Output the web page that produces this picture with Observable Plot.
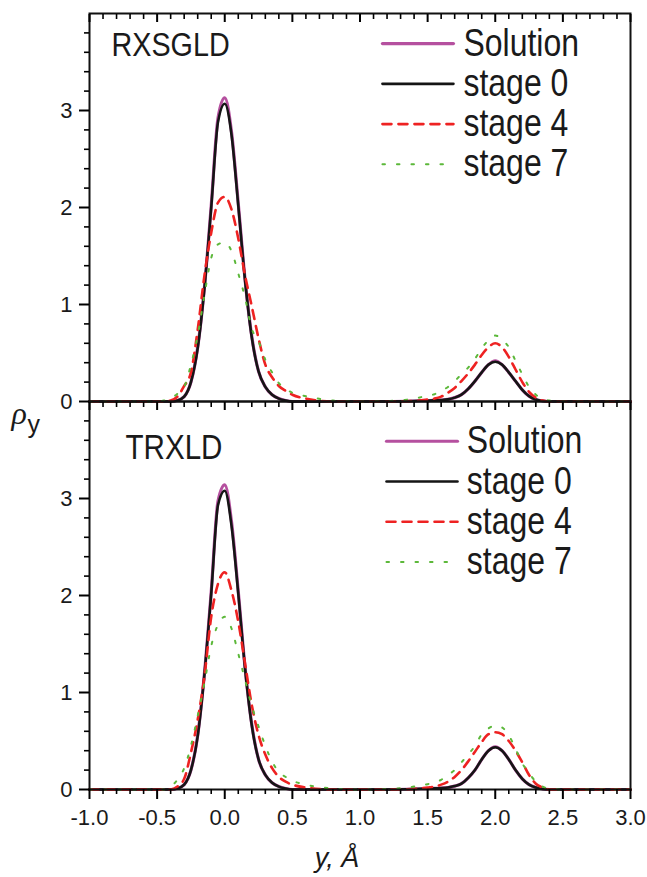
<!DOCTYPE html>
<html><head><meta charset="utf-8">
<script src="https://cdn.jsdelivr.net/npm/d3@7"></script>
<script src="https://cdn.jsdelivr.net/npm/@observablehq/plot@0.6"></script>
<style>body{margin:0;background:#fff;}</style>
</head><body><div id="chart"></div>
<script>
// ---------- data ----------
const panels = ["RXSGLD", "TRXLD"];
const seriesNames = ["Solution", "stage 0", "stage 4", "stage 7"];
const xTicks = [-1.0, -0.5, 0.0, 0.5, 1.0, 1.5, 2.0, 2.5, 3.0];
const xMinor = [-0.9,-0.8,-0.7,-0.6,-0.4,-0.3,-0.2,-0.1,0.1,0.2,0.3,0.4,0.6,0.7,0.8,0.9,1.1,1.2,1.3,1.4,1.6,1.7,1.8,1.9,2.1,2.2,2.3,2.4,2.6,2.7,2.8,2.9];
const yTicks = [0, 1, 2, 3];
const yMinor = [0.2,0.4,0.6,0.8,1.2,1.4,1.6,1.8,2.2,2.4,2.6,2.8,3.2,3.4,3.6,3.8];
const yPos = [-1.0,-0.6,-0.5,-0.45,-0.4,-0.35,-0.3,-0.25,-0.2,-0.15,-0.1,-0.05,0,0.05,0.1,0.15,0.2,0.25,0.3,0.35,0.4,0.45,0.5,0.6,0.8,1.0,1.2,1.4,1.5,1.55,1.6,1.65,1.7,1.75,1.8,1.85,1.9,1.95,2.0,2.05,2.1,2.15,2.2,2.25,2.3,2.35,2.4,2.5,2.6,2.8,3.0];

// RXSGLD panel
const rxSolution = [0,0,0,0,0,0.01,0.05,0.20,0.56,1.18,2.02,2.92,3.13,2.78,2.04,1.26,0.67,0.31,0.15,0.07,0.03,0.01,0,0,0,0,0,0.005,0.01,0.012,0.015,0.022,0.04,0.07,0.13,0.21,0.30,0.38,0.42,0.38,0.30,0.21,0.12,0.055,0.02,0.005,0,0,0,0,0];
const rxStage0   = [0,0,0,0,0,0.01,0.05,0.20,0.55,1.17,2.00,2.88,3.07,2.75,2.02,1.25,0.66,0.31,0.15,0.07,0.03,0.01,0,0,0,0,0,0.005,0.01,0.012,0.015,0.022,0.04,0.07,0.13,0.21,0.30,0.38,0.41,0.38,0.30,0.21,0.12,0.055,0.02,0.005,0,0,0,0,0];
const rxStage4   = [0,0,0,0,0.01,0.05,0.16,0.30,0.74,1.30,1.74,2.05,2.11,1.98,1.68,1.30,0.98,0.65,0.38,0.25,0.16,0.11,0.07,0.03,0,0,0,0.005,0.02,0.03,0.05,0.09,0.14,0.21,0.29,0.38,0.48,0.56,0.60,0.56,0.46,0.33,0.20,0.10,0.04,0.01,0,0,0,0,0];
const rxStage7   = [0,0,0,0.01,0.03,0.08,0.15,0.38,0.68,1.10,1.48,1.62,1.64,1.55,1.32,1.07,0.75,0.62,0.43,0.30,0.19,0.13,0.09,0.055,0.01,0,0.005,0.03,0.06,0.075,0.11,0.15,0.21,0.28,0.35,0.44,0.55,0.63,0.68,0.64,0.56,0.42,0.28,0.15,0.07,0.025,0.01,0,0,0,0];
// TRXLD panel
const trSolution = [0,0,0,0,0,0.01,0.05,0.20,0.56,1.20,2.04,2.97,3.14,2.76,2.04,1.26,0.67,0.31,0.15,0.07,0.03,0.01,0,0,0,0,0,0.005,0.01,0.012,0.015,0.02,0.035,0.06,0.12,0.20,0.31,0.40,0.44,0.40,0.31,0.20,0.11,0.05,0.02,0.005,0,0,0,0,0];
const trStage0   = [0,0,0,0,0,0.01,0.05,0.20,0.55,1.19,2.02,2.93,3.08,2.72,2.02,1.25,0.66,0.31,0.15,0.07,0.03,0.01,0,0,0,0,0,0.005,0.01,0.012,0.015,0.02,0.035,0.06,0.12,0.20,0.31,0.40,0.435,0.40,0.31,0.20,0.11,0.05,0.02,0.005,0,0,0,0,0];
const trStage4   = [0,0,0,0,0,0.03,0.11,0.38,0.72,1.17,1.78,2.12,2.24,2.05,1.73,1.30,0.87,0.56,0.36,0.22,0.13,0.08,0.05,0.02,0,0,0,0.005,0.02,0.03,0.05,0.08,0.13,0.20,0.29,0.39,0.49,0.57,0.59,0.57,0.50,0.40,0.28,0.15,0.06,0.02,0,0,0,0,0];
const trStage7   = [0,0,0,0,0.03,0.10,0.22,0.45,0.76,1.10,1.48,1.70,1.78,1.66,1.40,1.13,0.86,0.65,0.45,0.29,0.18,0.13,0.09,0.05,0.01,0,0.005,0.03,0.055,0.07,0.10,0.15,0.20,0.28,0.36,0.45,0.57,0.63,0.66,0.64,0.56,0.42,0.27,0.17,0.08,0.03,0.01,0,0,0,0];

// ---------- build table ----------
const panelSeries = {
  RXSGLD: [rxSolution, rxStage0, rxStage4, rxStage7],
  TRXLD:  [trSolution, trStage0, trStage4, trStage7]
};
const rows = [];
for (const p of panels) panelSeries[p].forEach((vals, si) =>
  vals.forEach((v, i) => rows.push({panel: p, series: seriesNames[si], x: yPos[i], v})));

// ---------- styles ----------
const styles = [
  {stroke: "#b5509f", strokeWidth: 3.2, dash: null},
  {stroke: "#151515", strokeWidth: 2.6, dash: null},
  {stroke: "#ee2222", strokeWidth: 2.6, dash: "9,7"},
  {stroke: "#5cb83a", strokeWidth: 2, dash: "2.5,12"}
];
const SANS = "'Liberation Sans', Arial, Helvetica, sans-serif";

const curveMarks = seriesNames.map((s, si) => Plot.line(rows.filter(r => r.series === s), {
  x: "x", y: "v", fy: "panel", stroke: styles[si].stroke, strokeWidth: styles[si].strokeWidth,
  strokeDasharray: styles[si].dash, curve: "monotone-x"
}));

// legend (positions in data units of each panel)
const legendCfg = [
  {panel: panels[0], x1: 1.166, x2: 1.691, tx: 1.765, y0: 3.69, step: 0.415},
  {panel: panels[1], x1: 1.196, x2: 1.721, tx: 1.79, y0: 3.59, step: 0.415}
];
const legendMarks = [];
for (const L of legendCfg) {
  seriesNames.forEach((s, si) => {
    const yy = L.y0 - si * L.step;
    legendMarks.push(Plot.line([{x: L.x1, v: yy}, {x: L.x2, v: yy}], {
      x: "x", y: "v", fy: () => L.panel, stroke: styles[si].stroke, strokeWidth: styles[si].strokeWidth,
      strokeDasharray: styles[si].dash
    }));
    legendMarks.push(Plot.text([s], {
      x: () => L.tx, y: () => yy, fy: () => L.panel, text: d => d, textAnchor: "start",
      lineAnchor: "bottom", dy: 12, fontSize: 39, fontFamily: SANS, fill: "#1a1a1a", ariaDescription: "narrow82"
    }));
  });
}

const chart = Plot.plot({
  width: 647, height: 877,
  marginLeft: 89, marginRight: 17, marginTop: 13, marginBottom: 88,
  style: {fontFamily: SANS, background: "#fff"},
  x: {domain: [-1, 3]},
  y: {domain: [0, 4]},
  fy: {domain: panels, padding: 0, axis: null},
  marks: [
    ...curveMarks,
    ...legendMarks,
    Plot.frame({stroke: "#111", strokeWidth: 2}),
    Plot.axisY(yTicks, {anchor: "left", tickSize: 10, tickPadding: 7, strokeWidth: 2, fontSize: 22, fill: "#1a1a1a", tickFormat: d => String(d), label: null}),
    Plot.axisY(yMinor, {anchor: "left", tickSize: 5, strokeWidth: 1.6, tickFormat: () => "", label: null}),
    Plot.axisX(xTicks, {anchor: "bottom", tickSize: 10, tickPadding: 10, strokeWidth: 2, fontSize: 22, fill: "#1a1a1a", tickFormat: d => d.toFixed(1), label: null}),
    Plot.axisX(xMinor, {anchor: "bottom", tickSize: 5, strokeWidth: 1.6, tickFormat: () => "", label: null}),
    Plot.axisX(xTicks, {anchor: "top", facetAnchor: null, tickSize: -8, strokeWidth: 2, tickFormat: () => "", label: null}),
    Plot.axisX(xMinor, {anchor: "top", facetAnchor: null, tickSize: -5, strokeWidth: 1.6, tickFormat: () => "", label: null}),
    Plot.text([panels[0]], {fy: d => d, text: d => d, frameAnchor: "top-left", textAnchor: "start", lineAnchor: "bottom", dx: 22, dy: 42, fontSize: 34, fontFamily: SANS, fill: "#1a1a1a", ariaDescription: "narrow84"}),
    Plot.text([panels[1]], {fy: d => d, text: d => d, frameAnchor: "top-left", textAnchor: "start", lineAnchor: "bottom", dx: 36, dy: 57, fontSize: 35, fontFamily: SANS, fill: "#1a1a1a", ariaDescription: "narrow84"}),
    Plot.text(["ρ"], {fy: () => panels[1], text: d => d, frameAnchor: "top-left", textAnchor: "start", lineAnchor: "bottom", dx: -78, dy: 22, fontSize: 32, fontStyle: "italic", fontFamily: "'Liberation Serif', 'DejaVu Serif', serif", fill: "#1a1a1a"}),
    Plot.text(["y"], {fy: () => panels[1], text: d => d, frameAnchor: "top-left", textAnchor: "start", lineAnchor: "bottom", dx: -62, dy: 31, fontSize: 25, fontFamily: SANS, fill: "#1a1a1a"}),
    Plot.text(["y, Å"], {fy: () => panels[1], text: d => d, frameAnchor: "bottom", textAnchor: "middle", lineAnchor: "bottom", dx: -23, dy: 77, fontSize: 27, fontStyle: "italic", fontFamily: SANS, fill: "#1a1a1a"})
  ]
});

// horizontally condense the legend / panel-label text (narrow Helvetica look)
function condense(sel, s) {
  d3.select(chart).selectAll(sel).each(function () {
    const t = this.getAttribute("transform") || "";
    const x = this.getAttribute("x") || 0, y = this.getAttribute("y") || 0;
    this.removeAttribute("x"); this.removeAttribute("y");
    this.setAttribute("transform", `${t} translate(${x},${y}) scale(${s},1)`);
  });
}
condense('g[aria-description="narrow82"] text, g[font-size="39"] text', 0.82);
condense('g[aria-description="narrow84"] text, g[font-size="34"] text, g[font-size="35"] text', 0.845);
document.getElementById("chart").appendChild(chart);
</script>
</body></html>
